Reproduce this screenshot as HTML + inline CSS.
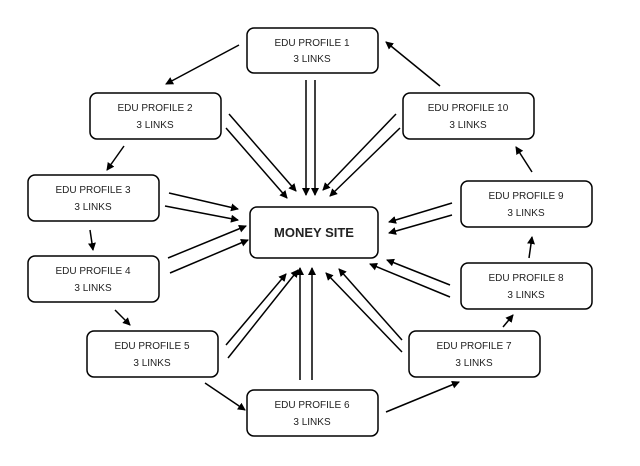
<!DOCTYPE html>
<html><head><style>
body{margin:0;background:#fff;width:640px;height:461px;overflow:hidden}
</style></head><body>
<svg width="640" height="461" xmlns="http://www.w3.org/2000/svg" font-family="Liberation Sans, sans-serif">
<defs><marker id="a" markerWidth="8" markerHeight="8" refX="7" refY="4" orient="auto" markerUnits="userSpaceOnUse"><path d="M0,0 L8,4 L0,8 z" fill="#000"/></marker></defs>
<g fill="#fff" stroke="#000" stroke-width="1.5">
<rect x="247" y="28" width="131" height="45" rx="7"/>
<rect x="90" y="93" width="131" height="46" rx="7"/>
<rect x="28" y="175" width="131" height="46" rx="7"/>
<rect x="28" y="256" width="131" height="46" rx="7"/>
<rect x="87" y="331" width="131" height="46" rx="7"/>
<rect x="247" y="390" width="131" height="46" rx="7"/>
<rect x="409" y="331" width="131" height="46" rx="7"/>
<rect x="461" y="263" width="131" height="46" rx="7"/>
<rect x="461" y="181" width="131" height="46" rx="7"/>
<rect x="403" y="93" width="131" height="46" rx="7"/>
<rect x="250" y="207" width="128" height="51" rx="7"/>
</g>
<g font-size="10" text-anchor="middle" fill="#222">
<text x="312" y="46">EDU PROFILE 1</text><text x="312" y="62">3 LINKS</text>
<text x="155" y="111">EDU PROFILE 2</text><text x="155" y="128">3 LINKS</text>
<text x="93" y="193">EDU PROFILE 3</text><text x="93" y="210">3 LINKS</text>
<text x="93" y="274">EDU PROFILE 4</text><text x="93" y="291">3 LINKS</text>
<text x="152" y="349">EDU PROFILE 5</text><text x="152" y="366">3 LINKS</text>
<text x="312" y="408">EDU PROFILE 6</text><text x="312" y="425">3 LINKS</text>
<text x="474" y="349">EDU PROFILE 7</text><text x="474" y="366">3 LINKS</text>
<text x="526" y="281">EDU PROFILE 8</text><text x="526" y="298">3 LINKS</text>
<text x="526" y="199">EDU PROFILE 9</text><text x="526" y="216">3 LINKS</text>
<text x="468" y="111">EDU PROFILE 10</text><text x="468" y="128">3 LINKS</text>
<text x="314" y="237" font-size="13" font-weight="bold">MONEY SITE</text>
</g>
<g stroke="#000" stroke-width="1.5" marker-end="url(#a)">
<line x1="239" y1="45" x2="166" y2="84"/>
<line x1="306" y1="80" x2="306" y2="195"/><line x1="315" y1="80" x2="315" y2="195"/>
<line x1="229" y1="114" x2="296" y2="191"/><line x1="226" y1="128" x2="287" y2="198"/>
<line x1="124" y1="146" x2="107" y2="170"/>
<line x1="169" y1="193" x2="238" y2="209"/><line x1="165" y1="206" x2="238" y2="220"/>
<line x1="90" y1="230" x2="93" y2="250"/>
<line x1="168" y1="258" x2="246" y2="226"/><line x1="170" y1="273" x2="248" y2="240"/>
<line x1="115" y1="310" x2="130" y2="325"/>
<line x1="226" y1="345" x2="286" y2="274"/><line x1="228" y1="358" x2="298" y2="270"/>
<line x1="205" y1="383" x2="245" y2="410"/>
<line x1="300" y1="380" x2="300" y2="268"/><line x1="312" y1="380" x2="312" y2="268"/>
<line x1="386" y1="412" x2="459" y2="382"/>
<line x1="402" y1="340" x2="339" y2="269"/><line x1="402" y1="352" x2="326" y2="273"/>
<line x1="503" y1="327" x2="513" y2="315"/>
<line x1="450" y1="285" x2="387" y2="260"/><line x1="450" y1="297" x2="370" y2="264"/>
<line x1="529" y1="258" x2="532" y2="237"/>
<line x1="452" y1="203" x2="389" y2="222"/><line x1="452" y1="215" x2="389" y2="233"/>
<line x1="532" y1="172" x2="516" y2="147"/>
<line x1="396" y1="114" x2="323" y2="190"/><line x1="400" y1="128" x2="330" y2="196"/>
<line x1="440" y1="86" x2="386" y2="42"/>
</g>
</svg>
</body></html>
